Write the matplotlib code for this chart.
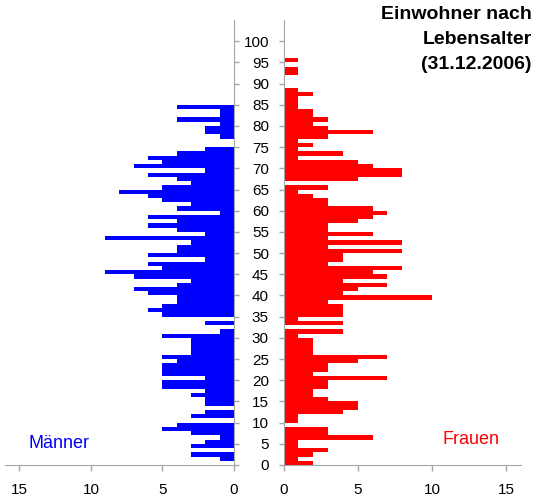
import numpy as np
import matplotlib
matplotlib.use('Agg')
import matplotlib.pyplot as plt

plt.rcParams['font.family'] = ['Liberation Sans', 'DejaVu Sans']

# Einwohner je Altersjahr (Alter 0, 1, 2, ...)
maenner = [0, 1, 3, 0, 3, 2, 1, 3, 5, 4,      # 0-9
           0, 3, 2, 0, 2, 2, 3, 2, 5, 5,      # 10-19
           2, 5, 5, 5, 4, 5, 3, 3, 3, 3,      # 20-29
           5, 1, 0, 2, 0, 5, 6, 5, 4, 4,      # 30-39
           6, 7, 4, 3, 7, 9, 5, 6, 2, 6,      # 40-49
           4, 4, 3, 9, 2, 4, 6, 4, 6, 1,      # 50-59
           4, 3, 5, 6, 8, 5, 3, 4, 6, 2,      # 60-69
           7, 5, 6, 4, 2, 0, 0, 1, 2, 2,      # 70-79
           1, 4, 1, 1, 4]                     # 80-84
frauen = [2, 1, 2, 3, 1, 1, 6, 3, 3, 0,       # 0-9
          1, 1, 4, 5, 5, 3, 2, 2, 3, 3,       # 10-19
          7, 2, 3, 3, 5, 7, 2, 2, 2, 2,       # 20-29
          1, 4, 0, 4, 1, 4, 4, 4, 3, 10,      # 30-39
          4, 5, 7, 4, 7, 6, 8, 3, 4, 4,       # 40-49
          8, 3, 8, 3, 6, 3, 3, 5, 6, 7,       # 50-59
          6, 3, 3, 2, 1, 3, 0, 5, 8, 8,       # 60-69
          6, 5, 1, 4, 1, 2, 1, 3, 6, 3,       # 70-79
          2, 3, 2, 2, 1, 1, 1, 2, 1, 0,       # 80-89
          0, 0, 1, 1, 0, 1]                   # 90-95
alter_m = np.arange(len(maenner))
alter_f = np.arange(len(frauen))

x_ticks = [0, 5, 10, 15]
y_ticks = list(range(0, 101, 5))

W, H = 543, 500
fig = plt.figure(figsize=(W / 100, H / 100), dpi=100)

axis_col = '#a6a6a6'
bot, top = 465, 20

ax_m = fig.add_axes([5 / W, (H - bot) / H, (234 - 5) / W, (bot - top) / H])
ax_f = fig.add_axes([283.5 / W, (H - bot) / H, (521 - 283.5) / W, (bot - top) / H])

ax_m.barh(alter_m, maenner, height=1, align='edge', color='#0000ff')
ax_f.barh(alter_f, frauen, height=1, align='edge', color='#ff0000')

ax_m.set_xlim(16, 0)
ax_f.set_xlim(0, 16)
for ax in (ax_m, ax_f):
    ax.set_ylim(0, 105)
    ax.set_xticks(x_ticks)
    ax.set_yticks(y_ticks)
    for s in ax.spines.values():
        s.set_color(axis_col)
    ax.spines['top'].set_visible(False)
    ax.tick_params(axis='x', direction='out', length=4, width=1, color=axis_col,
                   labelsize=11, pad=9)
    ax.tick_params(axis='y', direction='out', length=3.5, width=1, color=axis_col,
                   labelsize=11)

ax_m.spines['left'].set_visible(False)
ax_m.yaxis.tick_right()
ax_m.tick_params(axis='y', labelright=False)

ax_f.spines['right'].set_visible(False)
ax_f.tick_params(axis='y', pad=7)

fig.text(28 / W, 1 - 444 / H, 'Männer', color='#0000ff', fontsize=13,
         ha='left', va='center')
fig.text(500 / W, 1 - 440 / H, 'Frauen', color='#ff0000', fontsize=13,
         ha='right', va='center')
fig.text(532 / W, 1 - 6 / H, 'Einwohner nach\nLebensalter\n(31.12.2006)',
         fontsize=14, fontweight='bold', ha='right', va='top', linespacing=1.6)

fig.savefig('out.png', dpi=100)
